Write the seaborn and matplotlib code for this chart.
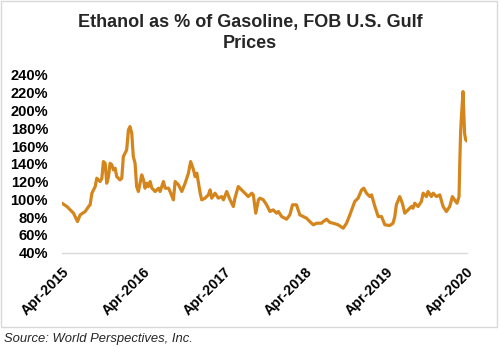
import matplotlib
matplotlib.use("Agg")
import matplotlib.pyplot as plt
from matplotlib.patches import Rectangle
from matplotlib.ticker import FuncFormatter
import pandas as pd
import seaborn as sns

dates = [
    "2015-04-01", "2015-04-23", "2015-05-08", "2015-05-23", "2015-06-10", "2015-06-22",
    "2015-07-15", "2015-07-30", "2015-08-06", "2015-08-14", "2015-08-29", "2015-09-05",
    "2015-09-20", "2015-09-28", "2015-10-05", "2015-10-13", "2015-10-20", "2015-10-28",
    "2015-11-04", "2015-11-12", "2015-11-19", "2015-11-27", "2015-12-04", "2015-12-19",
    "2015-12-27", "2016-01-03", "2016-01-18", "2016-01-26", "2016-02-02", "2016-02-10",
    "2016-02-17", "2016-02-25", "2016-03-03", "2016-03-11", "2016-03-26", "2016-04-03",
    "2016-04-10", "2016-04-18", "2016-04-25", "2016-05-03", "2016-05-11", "2016-05-26",
    "2016-06-10", "2016-06-17", "2016-07-02", "2016-07-10", "2016-07-25", "2016-08-01",
    "2016-08-16", "2016-08-24", "2016-09-08", "2016-09-23", "2016-10-08", "2016-10-23",
    "2016-11-02", "2016-11-15", "2016-11-22", "2016-11-30", "2016-12-15", "2016-12-22",
    "2017-01-06", "2017-01-21", "2017-01-29", "2017-02-05", "2017-02-20", "2017-03-07",
    "2017-03-22", "2017-03-30", "2017-04-14", "2017-04-29", "2017-05-14", "2017-05-21",
    "2017-06-05", "2017-06-20", "2017-07-05", "2017-07-20", "2017-08-05", "2017-08-12",
    "2017-08-23", "2017-09-04", "2017-09-11", "2017-09-26", "2017-10-11", "2017-10-26",
    "2017-11-10", "2017-11-25", "2017-12-03", "2017-12-18", "2018-01-09", "2018-01-24",
    "2018-02-05", "2018-02-23", "2018-03-10", "2018-03-25", "2018-04-09", "2018-04-24",
    "2018-05-10", "2018-05-25", "2018-06-16", "2018-06-24", "2018-07-09", "2018-07-24",
    "2018-08-08", "2018-08-30", "2018-09-22", "2018-10-07", "2018-10-22", "2018-11-13",
    "2018-11-28", "2018-12-14", "2018-12-24", "2019-01-05", "2019-01-20", "2019-01-28",
    "2019-02-12", "2019-02-27", "2019-03-14", "2019-03-29", "2019-04-20", "2019-05-05",
    "2019-05-13", "2019-05-20", "2019-06-04", "2019-06-16", "2019-06-27", "2019-07-12",
    "2019-07-27", "2019-08-03", "2019-08-11", "2019-08-26", "2019-09-10", "2019-09-18",
    "2019-10-03", "2019-10-10", "2019-10-25", "2019-11-02", "2019-11-17", "2019-12-02",
    "2019-12-17", "2020-01-01", "2020-01-16", "2020-01-28", "2020-02-07", "2020-02-18",
    "2020-02-27", "2020-03-01", "2020-03-05", "2020-03-08", "2020-03-16", "2020-03-23",
    "2020-03-28", "2020-04-07",
]

ratio_pct = [
    95.6, 91.9, 88.1, 84.4, 75.0, 82.5,
    86.3, 91.9, 93.8, 106.9, 114.4, 123.8,
    120.0, 123.8, 142.5, 140.6, 118.1, 125.6,
    140.6, 138.8, 133.1, 135.0, 125.6, 121.9,
    123.8, 148.1, 155.6, 178.1, 181.9, 174.4,
    148.1, 140.6, 114.4, 108.8, 127.5, 121.9,
    112.5, 118.1, 114.4, 120.0, 112.5, 108.8,
    112.5, 108.8, 120.0, 112.5, 112.5, 108.8,
    99.4, 120.0, 116.3, 108.8, 118.1, 129.4,
    142.5, 133.1, 125.6, 129.4, 106.9, 99.4,
    101.3, 105.0, 110.6, 101.3, 106.9, 101.3,
    103.1, 99.4, 108.8, 99.4, 91.9, 101.3,
    114.4, 110.6, 106.9, 103.1, 106.9, 105.0,
    84.4, 99.4, 101.3, 99.4, 93.8, 86.3,
    88.1, 84.4, 86.3, 80.6, 77.6, 82.5,
    93.8, 93.8, 82.5, 80.6, 78.8, 75.0,
    71.3, 73.1, 73.1, 75.0, 77.6, 73.9,
    73.1, 71.3, 67.5, 73.1, 82.5, 97.5,
    101.3, 110.6, 112.5, 106.9, 103.1, 105.0,
    91.9, 80.6, 80.6, 71.3, 70.5, 73.1,
    80.6, 93.8, 103.1, 95.6, 84.4, 88.1,
    91.9, 90.0, 95.6, 91.9, 97.5, 106.9,
    103.1, 108.8, 103.1, 106.9, 103.1, 105.0,
    91.9, 86.3, 91.9, 103.1, 99.4, 95.6,
    103.1, 136.9, 174.4, 189.4, 221.3, 174.4,
    166.9, 165.0,
]

tick_dates = ["2015-04-01", "2016-04-01", "2017-04-01", "2018-04-01", "2019-04-01", "2020-04-01"]
tick_labels = ["Apr-2015", "Apr-2016", "Apr-2017", "Apr-2018", "Apr-2019", "Apr-2020"]
y_ticks = [40, 60, 80, 100, 120, 140, 160, 180, 200, 220, 240]

title = "Ethanol as % of Gasoline, FOB U.S. Gulf\nPrices"
source = "Source: World Perspectives, Inc."

sns.set_theme(style="white")
plt.rcParams["font.family"] = ["Liberation Sans", "DejaVu Sans"]

df = pd.DataFrame({"date": pd.to_datetime(dates), "ratio": ratio_pct})

fig = plt.figure(figsize=(5.0, 3.47), dpi=100)
ax = fig.add_axes([0.124, 0.272, 0.810, 0.512])

sns.lineplot(data=df, x="date", y="ratio", ax=ax, color="#D4861C", linewidth=2.3)

ax.set_ylim(40, 240)
ax.set_xlim(pd.Timestamp("2015-04-01"), pd.Timestamp("2020-04-03"))
ax.set_yticks(y_ticks)
ax.yaxis.set_major_formatter(FuncFormatter(lambda v, p: f"{int(v)}%"))
ax.set_xticks(pd.to_datetime(tick_dates))
ax.set_xticklabels(tick_labels)
ax.set_xlabel("")
ax.set_ylabel("")

for s in ["top", "right", "left"]:
    ax.spines[s].set_visible(False)
ax.spines["bottom"].set_color("#d9d9d9")
ax.spines["bottom"].set_linewidth(1.0)

ax.tick_params(axis="y", length=0, pad=10, labelsize=10.5, labelcolor="black")
ax.tick_params(axis="x", direction="out", length=4, width=1, color="#d9d9d9",
               pad=5, labelsize=10.3, labelcolor="black")
for lbl in ax.get_yticklabels():
    lbl.set_fontweight("bold")
for lbl in ax.get_xticklabels():
    lbl.set_fontweight("bold")
    lbl.set_rotation(45)
    lbl.set_ha("right")
    lbl.set_rotation_mode("anchor")

fig.text(0.5, 0.96, title, ha="center", va="top", fontsize=13,
         fontweight="bold", linespacing=1.3)
fig.text(0.008, 0.024, source, ha="left", va="center", fontsize=9.4,
         style="italic")

border = Rectangle((0.002, 0.057), 0.992, 0.94, transform=fig.transFigure,
                   fill=False, edgecolor="#d9d9d9", linewidth=1.0)
fig.patches.append(border)

fig.savefig("out.png", dpi=100)
